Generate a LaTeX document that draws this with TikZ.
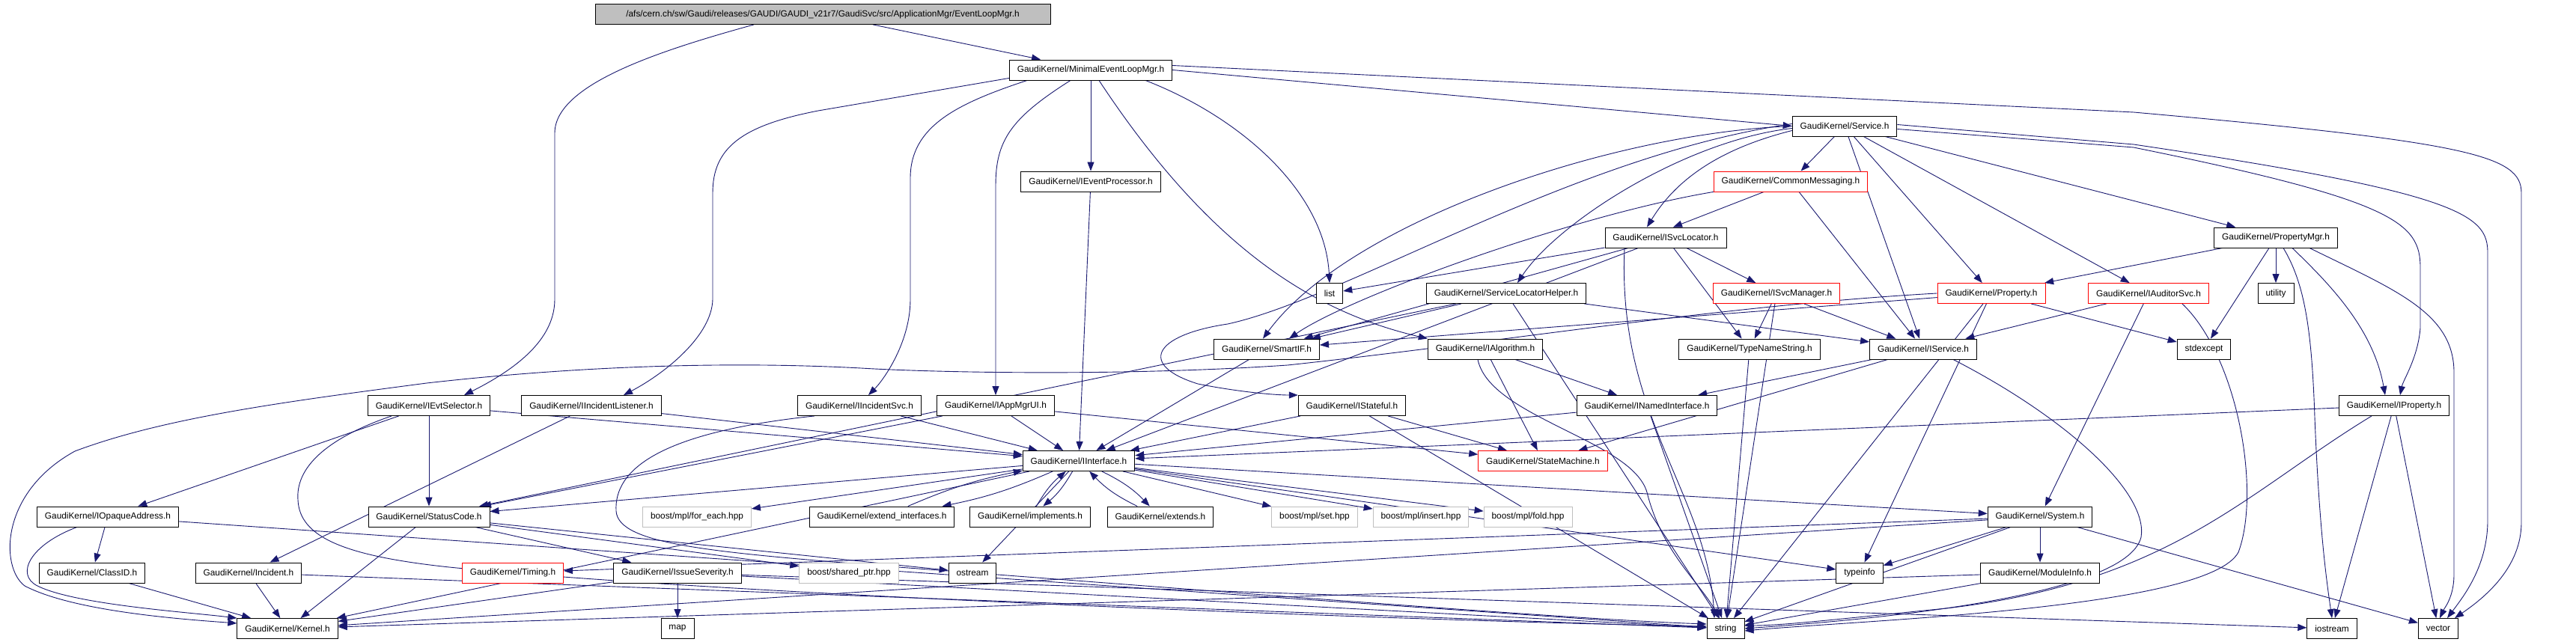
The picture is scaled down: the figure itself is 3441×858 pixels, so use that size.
\documentclass[tikz,border=0pt]{standalone}
\usepackage{fontspec}
\setmainfont{Liberation Sans}
\usetikzlibrary{arrows.meta,backgrounds,calc}
\definecolor{edgec}{HTML}{191970}
\definecolor{rootfill}{HTML}{BFBFBF}
\definecolor{boostc}{HTML}{BFBFBF}
\begin{document}
\begin{tikzpicture}[x=1pt,y=1pt,
  nbox/.style={draw=black,fill=white,line width=0.9pt,minimum height=27pt,inner xsep=10.5pt,inner ysep=0pt,font=\fontsize{11.86}{14}\selectfont},
  rbox/.style={nbox,draw=red},
  gbox/.style={nbox,draw=boostc},
  rootbox/.style={nbox,fill=rootfill,minimum width=608pt},
  edg/.style={draw=edgec,line width=0.9pt,-{Triangle[length=12pt,width=9pt]}}]
\useasboundingbox (0,0) rectangle (3441,858);
% nodes
\node[rootbox] (root) at (1099,839) {/afs/cern.ch/sw/Gaudi/releases/GAUDI/GAUDI\_v21r7/GaudiSvc/src/ApplicationMgr/EventLoopMgr.h};
\node[nbox] (melm) at (1457,764.5) {GaudiKernel/MinimalEventLoopMgr.h};
\node[nbox] (service) at (2464,689.5) {GaudiKernel/Service.h};
\node[nbox] (evproc) at (1457,615.5) {GaudiKernel/IEventProcessor.h};
\node[rbox] (cmsg) at (2392,615.5) {GaudiKernel/CommonMessaging.h};
\node[nbox] (svcloc) at (2225,540.5) {GaudiKernel/ISvcLocator.h};
\node[nbox] (propmgr) at (3040,540.5) {GaudiKernel/PropertyMgr.h};
\node[nbox] (list) at (1776,466) {list};
\node[nbox] (slh) at (2012,466) {GaudiKernel/ServiceLocatorHelper.h};
\node[rbox] (svcmgr) at (2373,466) {GaudiKernel/ISvcManager.h};
\node[rbox] (property) at (2660,466) {GaudiKernel/Property.h};
\node[rbox] (auditor) at (2870,466) {GaudiKernel/IAuditorSvc.h};
\node[nbox] (utility) at (3040,466) {utility};
\node[nbox] (smartif) at (1692,391.5) {GaudiKernel/SmartIF.h};
\node[nbox] (algo) at (1984,391.5) {GaudiKernel/IAlgorithm.h};
\node[nbox] (typename) at (2337,391.5) {GaudiKernel/TypeNameString.h};
\node[nbox] (iservice) at (2569,391.5) {GaudiKernel/IService.h};
\node[nbox] (stdexcept) at (2944,391.5) {stdexcept};
\node[nbox] (evt) at (573,316) {GaudiKernel/IEvtSelector.h};
\node[nbox] (incl) at (790,316) {GaudiKernel/IIncidentListener.h};
\node[nbox] (incsvc) at (1148,316) {GaudiKernel/IIncidentSvc.h};
\node[nbox] (appmgr) at (1330,316) {GaudiKernel/IAppMgrUI.h};
\node[nbox] (stateful) at (1806,316) {GaudiKernel/IStateful.h};
\node[nbox] (named) at (2200,316) {GaudiKernel/INamedInterface.h};
\node[nbox] (iproperty) at (3198,316) {GaudiKernel/IProperty.h};
\node[nbox] (iinterface) at (1441,242) {GaudiKernel/IInterface.h};
\node[rbox] (statemachine) at (2061,242) {GaudiKernel/StateMachine.h};
\node[nbox] (opaque) at (144,167.5) {GaudiKernel/IOpaqueAddress.h};
\node[nbox] (statuscode) at (573,167.5) {GaudiKernel/StatusCode.h};
\node[gbox] (foreach) at (931,167.5) {boost/mpl/for\_each.hpp};
\node[nbox] (extint) at (1178,167.5) {GaudiKernel/extend\_interfaces.h};
\node[nbox] (implements) at (1376,167.5) {GaudiKernel/implements.h};
\node[nbox] (extends) at (1550,167.5) {GaudiKernel/extends.h};
\node[gbox] (mplset) at (1756,167.5) {boost/mpl/set.hpp};
\node[gbox] (mplinsert) at (1898,167.5) {boost/mpl/insert.hpp};
\node[gbox] (mplfold) at (2041,167.5) {boost/mpl/fold.hpp};
\node[nbox] (system) at (2725,167.5) {GaudiKernel/System.h};
\node[nbox] (classid) at (123,92.5) {GaudiKernel/ClassID.h};
\node[nbox] (incident) at (332,92.5) {GaudiKernel/Incident.h};
\node[rbox] (timing) at (685,92.5) {GaudiKernel/Timing.h};
\node[nbox] (issue) at (905,92.5) {GaudiKernel/IssueSeverity.h};
\node[gbox] (sharedptr) at (1134,92.5) {boost/shared\_ptr.hpp};
\node[nbox] (ostream) at (1299,92.5) {ostream};
\node[nbox] (typeinfo) at (2484,92.5) {typeinfo};
\node[nbox] (module) at (2725,92.5) {GaudiKernel/ModuleInfo.h};
\node[nbox] (kernel) at (384,18) {GaudiKernel/Kernel.h};
\node[nbox] (map) at (905,18) {map};
\node[nbox] (string) at (2305,18) {string};
\node[nbox] (iostream) at (3115,18) {iostream};
\node[nbox] (vector) at (3257,18) {vector};
% edges
\begin{pgfonlayer}{background}
\fill[white] (0,0) rectangle (3441,858);
% root
\draw[edg] (root) -- (melm);
\draw[edg] ([xshift=-92pt]root.south) .. controls (880,790) and (741,745) .. (741,680) -- (741,458) .. controls (741,410) and (700,370) .. ([xshift=47pt]evt.north);
% MinimalEventLoopMgr
\draw[edg] ([yshift=3pt]melm.south west) -- (1093,710) .. controls (990,690) and (952,660) .. (952,600) -- (952,458) .. controls (951,410) and (890,360) .. ([xshift=43pt]incl.north);
\draw[edg] ([xshift=-85pt]melm.south) .. controls (1280,720) and (1216,690) .. (1216,620) -- (1216,458) .. controls (1216,400) and (1180,350) .. ([xshift=12pt]incsvc.north);
\draw[edg] ([xshift=-27pt]melm.south) .. controls (1350,700) and (1330,670) .. (1330,610) -- (appmgr.north);
\draw[edg] (melm) -- (evproc);
\draw[edg] ([xshift=11pt]melm.south) .. controls (1620,520) and (1760,440) .. (algo.north west);
\draw[edg] ([xshift=73pt]melm.south) .. controls (1660,700) and (1770,600) .. (list.north);
\draw[edg] (melm.east) -- (service.west);
\draw[edg] ([yshift=6pt]melm.east) -- (2850,708) .. controls (3300,668) and (3368,650) .. (3368,600) -- (3368,160) .. controls (3368,100) and (3320,60) .. ([xshift=22pt]vector.north);
% Service
\draw[edg] (service) -- (cmsg);
\draw[edg] ([yshift=-6pt]service.west) .. controls (2300,660) and (2240,620) .. ([xshift=-25pt]svcloc.north);
\draw[edg] ([yshift=-3pt]service.west) .. controls (2250,670) and (2080,560) .. ([xshift=15pt]slh.north);
\draw[edg] ([yshift=0pt]service.west) .. controls (2150,680) and (1800,560) .. ([xshift=-5pt]smartif.north);
\draw[edg] ([yshift=3pt]service.west) .. controls (2100,650) and (1800,460) .. (1640,425) .. controls (1540,410) and (1520,370) .. (1600,345) .. controls (1650,335) and (1700,330) .. (stateful.north west);
\draw[edg] (service) -- (iservice);
\draw[edg] (service) -- (property);
\draw[edg] (service) -- (auditor);
\draw[edg] (service) -- (propmgr);
\draw[edg] ([yshift=-4pt]service.east) -- (2850,661) .. controls (3200,590) and (3233,560) .. (3233,500) -- (3233,420) .. controls (3230,380) and (3210,350) .. ([xshift=8pt]iproperty.north);
\draw[edg] ([yshift=2pt]service.east) -- (2850,665) .. controls (3290,600) and (3323,570) .. (3323,520) -- (3323,160) .. controls (3322,100) and (3290,60) .. ([xshift=12pt]vector.north);
% CommonMessaging
\draw[edg] (cmsg) -- ([xshift=10pt]svcloc.north);
\draw[edg] (cmsg) -- (iservice);
\draw[edg] (cmsg.south west) .. controls (2100,570) and (1800,460) .. ([xshift=30pt]smartif.north);
% ISvcLocator
\draw[edg] (svcloc) -- (list);
\draw[edg] (svcloc) -- (smartif);
\draw[edg] (svcloc) -- (iinterface);
\draw[edg] (svcloc) -- (svcmgr);
\draw[edg] (svcloc) -- (typename);
\draw[edg] ([xshift=-55pt]svcloc.south) .. controls (2160,300) and (2280,200) .. ([xshift=-15pt]string.north);
% PropertyMgr
\draw[edg] (propmgr) -- (property);
\draw[edg] (propmgr) -- (stdexcept);
\draw[edg] (propmgr) -- (utility);
\draw[edg] ([xshift=10pt]propmgr.south) .. controls (3078,480) and (3088,420) .. (3092,300) .. controls (3098,150) and (3108,80) .. (iostream.north);
\draw[edg] ([xshift=22pt]propmgr.south) .. controls (3110,480) and (3170,420) .. ([xshift=-12pt]iproperty.north);
\draw[edg] ([xshift=45pt]propmgr.south) .. controls (3200,470) and (3278,440) .. (3278,360) -- (3278,90) .. controls (3278,60) and (3265,45) .. ([xshift=2pt]vector.north);
% ServiceLocatorHelper
\draw[edg] (slh) -- (smartif);
\draw[edg] (slh) -- (iservice);
\draw[edg] (slh) -- (statuscode);
\draw[edg] (slh) -- (string);
% ISvcManager
\draw[edg] (svcmgr) -- (typename);
\draw[edg] (svcmgr) -- (iservice);
\draw[edg] (svcmgr) -- (string);
% Property
\draw[edg] (property) -- (smartif);
\draw[edg] (property) -- (typeinfo);
\draw[edg] (property) -- (stdexcept);
\draw[edg] (property) -- (string);
\draw[edg] (property.west) .. controls (2300,450) and (2000,400) .. (1720,370) .. controls (1500,355) and (1250,360) .. (1150,366) .. controls (1000,374) and (800,372) .. (570,346) .. controls (380,321) and (220,300) .. (100,255) .. controls (0,200) and (0,100) .. (33,75) .. controls (100,40) and (250,30) .. ([yshift=7pt]kernel.west);
% IAuditorSvc
\draw[edg] (auditor) -- (iservice);
\draw[edg] (auditor) -- (system);
\draw[edg] ([xshift=45pt]auditor.south) .. controls (2990,380) and (3020,200) .. (2990,120) .. controls (2950,45) and (2500,30) .. ([yshift=-3pt]string.east);
% SmartIF
\draw[edg] (smartif) -- (iinterface);
% IAlgorithm
\draw[edg] (algo) -- (named);
\draw[edg] (algo) -- (statemachine);
\draw[edg] ([xshift=-10pt]algo.south) .. controls (1990,300) and (2180,270) .. (2200,200) .. controls (2220,120) and (2270,80) .. ([xshift=-8pt]string.north);
% TypeNameString
\draw[edg] (typename) -- (string);
% IService
\draw[edg] (iservice) -- (named);
\draw[edg] (iservice) -- (statemachine);
\draw[edg] ([xshift=40pt]iservice.south) .. controls (2760,300) and (2870,200) .. (2860,140) .. controls (2840,60) and (2500,30) .. (string.east);
% IEvtSelector
\draw[edg] (evt) -- (opaque);
\draw[edg] (evt) -- (statuscode);
\draw[edg] (evt) -- (iinterface);
\draw[edg] ([xshift=-50pt]evt.south) .. controls (430,270) and (395,230) .. (398,190) .. controls (400,140) and (460,115) .. (600,100) .. controls (1000,60) and (2000,25) .. ([yshift=3pt]string.west);
% IIncidentListener
\draw[edg] (incl) -- (incident);
\draw[edg] (incl) -- (iinterface);
% IIncidentSvc
\draw[edg] (incsvc) -- (iinterface);
\draw[edg] ([xshift=-60pt]incsvc.south) .. controls (880,280) and (820,230) .. (823,175) .. controls (826,130) and (950,120) .. (1200,100) .. controls (1600,70) and (2100,30) .. ([yshift=6pt]string.west);
% IAppMgrUI
\draw[edg] (appmgr) -- (iinterface);
\draw[edg] (appmgr) -- (statuscode);
\draw[edg] (appmgr) -- (statemachine);
% IEventProcessor
\draw[edg] (evproc) -- (iinterface);
% IStateful
\draw[edg] (stateful) -- (iinterface);
\draw[edg] (stateful) -- (statemachine);
\draw[edg] (stateful) -- (string);
% INamedInterface
\draw[edg] (named) -- (iinterface);
\draw[edg] (named) -- (string);
% IProperty
\draw[edg] (iproperty) -- (iinterface);
\draw[edg] ([xshift=-30pt]iproperty.south) .. controls (3000,200) and (2900,80) .. (2600,45) .. controls (2450,30) and (2380,22) .. ([yshift=4pt]string.east);
\draw[edg] (iproperty) -- (iostream);
\draw[edg] (iproperty) -- (vector);
% IInterface
\draw[edg] (iinterface) -- (kernel);
\draw[edg] (iinterface) -- (system);
\draw[edg] (iinterface) -- (statuscode);
\draw[edg] (iinterface) -- (ostream);
\draw[edg] (iinterface) -- (typeinfo);
\draw[edg] (iinterface) to[bend left=6] (extint);
\draw[edg] (extint) to[bend left=6] (iinterface);
\draw[edg] (iinterface) to[bend left=10] (implements);
\draw[edg] (implements) to[bend left=10] (iinterface);
\draw[edg] (iinterface) to[bend left=10] (extends);
\draw[edg] (extends) to[bend left=10] (iinterface);
\draw[edg] (iinterface) -- (foreach);
\draw[edg] (iinterface) -- (mplset);
\draw[edg] (iinterface) -- (mplinsert);
\draw[edg] (iinterface) -- (mplfold);
% lower part
\draw[edg] (opaque) -- (classid);
\draw[edg] ([xshift=-41pt]opaque.south) .. controls (40,130) and (20,90) .. (50,75) .. controls (100,50) and (250,40) .. (kernel.north west);
\draw[edg] (opaque) -- (string);
\draw[edg] (classid) -- (kernel);
\draw[edg] (incident) -- (kernel);
\draw[edg] (incident) -- (string);
\draw[edg] (statuscode) -- (kernel);
\draw[edg] (statuscode) -- (issue);
\draw[edg] (statuscode) -- (ostream);
\draw[edg] (statuscode) -- (sharedptr);
\draw[edg] (issue) -- (kernel);
\draw[edg] (issue) -- (map);
\draw[edg] (issue) -- (string);
\draw[edg] (issue) -- (iostream);
\draw[edg] (system) -- (timing);
\draw[edg] (system) -- (typeinfo);
\draw[edg] (system) -- (module);
\draw[edg] (system) -- (kernel);
\draw[edg] (system) -- (string);
\draw[edg] (system) -- (vector);
\draw[edg] (module) -- (kernel);
\draw[edg] (module) -- (string);
\end{pgfonlayer}
\end{tikzpicture}
\end{document}
